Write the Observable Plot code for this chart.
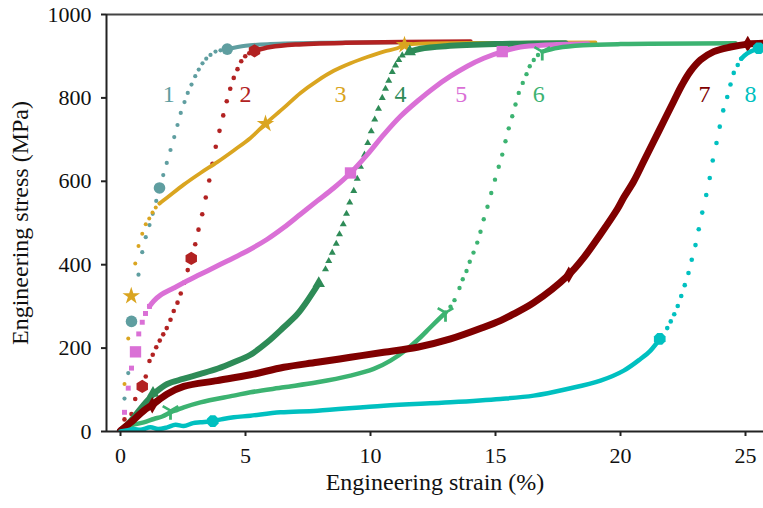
<!DOCTYPE html>
<html><head><meta charset="utf-8">
<script src="https://cdn.jsdelivr.net/npm/d3@7"></script>
<script src="https://cdn.jsdelivr.net/npm/@observablehq/plot@0.6"></script>
<style>
body{margin:0;background:#fff;}
svg{display:block}
</style>
</head><body><div id="chart"></div>
<script>
// ---- data (strain %, stress MPa) ----
const xTicks = [0, 5, 10, 15, 20, 25];
const yTicks = [0, 200, 400, 600, 800, 1000];
const curveNames = ["1", "2", "3", "4", "5", "6", "7", "8"];
const labelStrain = [1.93, 5.0, 8.8, 11.2, 13.63, 16.73, 23.36, 25.2];
const labelStress = [808, 808, 808, 808, 808, 808, 808, 808];

const c1Sparse = [[0.02,5],[0.16,79],[0.31,140],[0.44,264],[0.72,376],[0.87,430],[1.01,466],[1.16,495],[1.29,522],[1.43,553],[1.56,584],[1.71,615],[1.85,644],[2.0,675],[2.15,706],[2.28,735],[2.41,764],[2.56,790],[2.69,812],[2.84,832],[2.99,852],[3.13,868],[3.28,883],[3.43,894],[3.6,903],[3.8,911],[4.0,914],[4.27,917]];
const c1Dense = [[4.27,917],[5,925],[6,929],[8,932],[12,934]];
const c1Big = [[0.44,264],[1.56,584],[4.27,917]];

const c2Sparse = [[0.02,5],[0.16,29],[0.44,42],[0.59,78],[0.87,108],[1.01,132],[1.16,169],[1.29,184],[1.43,202],[1.57,218],[1.71,233],[1.85,248],[2.0,268],[2.13,289],[2.28,309],[2.41,331],[2.55,357],[2.69,387],[2.83,415],[2.99,449],[3.12,484],[3.27,521],[3.41,561],[3.55,602],[3.68,642],[3.81,683],[3.96,721],[4.11,758],[4.25,792],[4.39,822],[4.53,848],[4.68,869],[4.83,888],[4.99,900],[5.15,907],[5.36,913]];
const c2Dense = [[5.36,913],[6,922],[7,928],[9,932],[14,935]];
const c2Big = [[0.87,108],[2.83,415],[5.36,913]];

const c3Sparse = [[0.02,5],[0.16,114],[0.31,223],[0.43,325],[0.59,403],[0.72,445],[0.87,474],[1.01,497],[1.15,511],[1.28,525],[1.41,537],[1.56,547]];
const c3Dense = [[1.56,547],[1.87,561],[2.53,592],[3.2,620],[3.87,646],[4.53,674],[5.2,704],[5.8,738],[6.53,776],[7.2,812],[7.87,841],[8.53,865],[9.2,883],[9.87,898],[10.53,911],[11.07,919],[11.36,927],[12,930],[15,932],[19,933]];
const c3Big = [[0.43,325],[5.8,738],[11.36,927]];

const c4Dense1 = [[0,2],[0.25,15],[0.53,34],[0.9,62],[1.2,82],[1.4,94],[1.87,114],[2.5,126],[3.2,138],[3.9,151],[4.53,166],[5.2,184],[5.87,214],[6.53,250],[7.07,281],[7.47,313],[7.93,355]];
const c4Sparse = [[8.2,389],[8.33,409],[8.47,429],[8.63,450],[8.76,473],[8.91,497],[9.04,522],[9.17,549],[9.33,577],[9.47,606],[9.6,635],[9.76,664],[9.89,692],[10.03,720],[10.17,748],[10.32,774],[10.47,800],[10.6,822],[10.73,841],[10.87,862],[11.0,878],[11.13,891],[11.27,902]];
const c4Dense2 = [[11.57,911],[12,918],[13,924],[15,929],[17.8,931]];
const c4Big = [[1.3,92],[7.93,355],[11.57,911]];

const c5Sparse = [[0.02,3],[0.16,46],[0.31,104],[0.44,152],[0.6,191],[0.73,234],[0.87,262],[1.0,283],[1.16,300]];
const c5Dense = [[1.16,300],[1.33,313],[1.6,327],[2.13,344],[2.8,365],[3.47,385],[4.27,409],[5.07,433],[5.87,461],[6.53,489],[7.2,521],[7.87,553],[8.53,584],[9.2,620],[9.87,664],[10.53,712],[11.2,756],[11.87,792],[12.53,824],[13.2,852],[13.87,876],[14.53,895],[15.27,911],[16,922],[17,927],[18.7,930]];
const c5Big = [[0.6,191],[9.2,620],[15.27,911]];

const c6Dense1 = [[0,2],[0.4,14],[0.93,22],[1.33,30],[1.67,36],[2.0,46],[2.27,52],[2.53,58],[3.2,70],[4.53,86],[5.2,94],[6.53,106],[7.87,118],[9.2,134],[10.13,150],[10.8,170],[11.47,198],[12.0,226],[12.4,250],[13.0,285]];
const c6Sparse = [[13.2,299],[13.36,315],[13.56,344],[13.69,365],[13.84,385],[13.97,407],[14.12,429],[14.27,453],[14.4,479],[14.53,509],[14.68,539],[14.83,572],[14.98,604],[15.13,635],[15.27,664],[15.4,696],[15.53,727],[15.67,756],[15.8,784],[15.93,812],[16.09,836],[16.24,857],[16.37,876],[16.53,891],[16.7,903]];
const c6Dense2 = [[16.87,911],[17.5,920],[18.5,926],[20,929],[24.6,931]];
const c6Big = [[2.0,50],[13.0,285],[16.87,911]];

const c7Dense = [[0,2],[0.53,28],[0.93,50],[1.27,64],[1.87,90],[2.53,108],[3.87,122],[5.2,136],[6.53,154],[7.87,166],[9.2,178],[10.53,190],[11.87,202],[13.2,222],[14.53,250],[15.2,266],[15.6,278],[16.53,309],[17.93,376],[18.53,417],[19.2,473],[19.87,533],[20.13,561],[20.53,600],[20.93,648],[21.33,696],[21.73,744],[22.13,792],[22.47,832],[22.8,864],[23.2,891],[23.73,911],[24.4,922],[25.09,929],[25.72,931]];
const c7Big = [[1.27,63],[17.93,376],[25.09,929]];

const c8Dense1 = [[0,0],[0.3,3],[0.53,6],[0.8,4],[1.2,10],[1.5,6],[1.87,10],[2.2,16],[2.53,13],[2.9,20],[3.2,22],[3.69,25],[4.1,30],[4.53,34],[5.2,38],[6.4,46],[7.87,50],[10.53,62],[13.2,70],[15.2,78],[16.53,86],[17.87,102],[19.2,122],[20.13,146],[20.8,174],[21.2,194],[21.57,222]];
const c8Sparse = [[21.87,248],[22.01,264],[22.15,281],[22.29,301],[22.43,325],[22.57,351],[22.72,380],[22.85,412],[23.0,447],[23.13,485],[23.27,525],[23.43,567],[23.57,608],[23.69,650],[23.84,692],[23.97,731],[24.11,770],[24.27,802],[24.4,832],[24.53,860],[24.69,879],[24.83,894]];
const c8Dense2 = [[24.83,894],[25.07,907],[25.53,919],[25.72,922]];
const c8Big = [[3.69,25],[21.57,222],[25.53,919]];

// ---- custom symbols ----
const hexSym = {draw(ctx, size) {
  const R = Math.sqrt(size / (1.5 * Math.sqrt(3)));
  for (let i = 0; i < 6; i++) { const a = -Math.PI/2 + i*Math.PI/3; const x = R*Math.cos(a), y = R*Math.sin(a); i ? ctx.lineTo(x,y) : ctx.moveTo(x,y); }
  ctx.closePath();
}};
const octSym = {draw(ctx, size) {
  const R = Math.sqrt(size / (2 * Math.SQRT2));
  for (let i = 0; i < 8; i++) { const a = Math.PI/8 + i*Math.PI/4; const x = R*Math.cos(a), y = R*Math.sin(a); i ? ctx.lineTo(x,y) : ctx.moveTo(x,y); }
  ctx.closePath();
}};
const triDownSym = {draw(ctx, size) {
  const L = Math.sqrt(size / Math.PI);
  ctx.moveTo(0,0); ctx.lineTo(0,L);
  ctx.moveTo(0,0); ctx.lineTo(-L*0.866,-L*0.5);
  ctx.moveTo(0,0); ctx.lineTo(L*0.866,-L*0.5);
}};

// ---- styling per curve ----
const FONT = "'Liberation Serif', 'Times New Roman', serif";
const series = [
  {color:"#5F9EA0", dense:[c1Dense], dw:4, sparse:c1Sparse, sSym:"circle", sr:2.1, big:c1Big, bSym:"circle", br:5.8},
  {color:"#B22222", dense:[c2Dense], dw:4.5, sparse:c2Sparse, sSym:"circle", sr:2.3, big:c2Big, bSym:hexSym, br:6},
  {color:"#DAA520", dense:[c3Dense], dw:3.8, sparse:c3Sparse, sSym:"circle", sr:2.0, big:c3Big, bSym:"star", br:5.5},
  {color:"#2E8B57", dense:[c4Dense1, c4Dense2], dw:6, sparse:c4Sparse, sSym:"triangle", sr:2.6, big:c4Big, bSym:"triangle", br:4.6},
  {color:"#DA70D6", dense:[c5Dense], dw:5, sparse:c5Sparse, sSym:"square", sr:2.8, big:c5Big, bSym:"square", br:6.4},
  {color:"#3CB371", dense:[c6Dense1, c6Dense2], dw:4.5, sparse:c6Sparse, sSym:"circle", sr:2.2, big:c6Big, bSym:triDownSym, br:9, line:true},
  {color:"#800000", dense:[c7Dense], dw:7, sparse:[], sSym:"diamond", sr:2.5, big:c7Big, bSym:"diamond", br:5},
  {color:"#00C0C0", dense:[c8Dense1, c8Dense2], dw:4.5, sparse:c8Sparse, sSym:"circle", sr:2.3, big:c8Big, bSym:octSym, br:6}
];

const P = ([x, y]) => ({x, y});
const marks = [];
series.forEach(s => {
  s.dense.forEach(seg => marks.push(Plot.line(seg.map(P), {x:"x", y:"y", stroke:s.color, strokeWidth:s.dw, curve:"catmull-rom", strokeLinecap:"round", strokeLinejoin:"round", clip:true})));
  if (s.sparse.length) marks.push(Plot.dot(s.sparse.map(P), {x:"x", y:"y", symbol:s.sSym, r:s.sr, fill:s.color, stroke:"none", clip:true}));
  if (s.line) marks.push(Plot.dot(s.big.map(P), {x:"x", y:"y", symbol:s.bSym, r:s.br, fill:"none", stroke:s.color, strokeWidth:2.8, clip:true}));
  else marks.push(Plot.dot(s.big.map(P), {x:"x", y:"y", symbol:s.bSym, r:s.br, fill:s.color, stroke:"none", clip:true}));
});

const labels = curveNames.map((n, i) => ({n, x: labelStrain[i], y: labelStress[i], c: series[i].color}));

const chart = Plot.plot({
  width: 763, height: 508,
  marginLeft: 106, marginRight: 0, marginTop: 14, marginBottom: 77,
  x: {domain: [-0.56, 25.72]},
  y: {domain: [0, 1000]},
  style: {fontFamily: FONT, fontSize: "22px", background: "white", color: "#111"},
  marks: [
    ...marks,
    Plot.text(labels, {x:"x", y:"y", text:"n", fill:"c", fontSize:24, fontFamily: FONT, textAnchor:"middle", lineAnchor:"middle"}),
    Plot.ruleY([1000], {stroke:"#444", strokeWidth:2}),
    Plot.ruleX([-0.56], {stroke:"#222", strokeWidth:2}),
    Plot.ruleY([0], {stroke:"#222", strokeWidth:2}),
    Plot.axisX({ticks: xTicks, tickFormat: d => String(d), tickSize: 5, tickPadding: 11, label: null, stroke: "#222", strokeWidth: 2, fontSize: 22, fontFamily: FONT, fill: "#111"}),
    Plot.axisY({ticks: yTicks, tickFormat: d => String(d), tickSize: 5, tickPadding: 10, label: null, stroke: "#222", strokeWidth: 2, fontSize: 22, fontFamily: FONT, fill: "#111"}),
    Plot.text(["Engineering strain (%)"], {frameAnchor: "bottom", dy: 58, fontSize: 24, fontFamily: FONT, fill: "#111", textAnchor: "middle"}),
    Plot.text(["Engineering stress (MPa)"], {frameAnchor: "left", dx: -86, rotate: -90, fontSize: 24, fontFamily: FONT, fill: "#111", textAnchor: "middle"})
  ]
});
document.getElementById("chart").appendChild(chart);
</script></body></html>
